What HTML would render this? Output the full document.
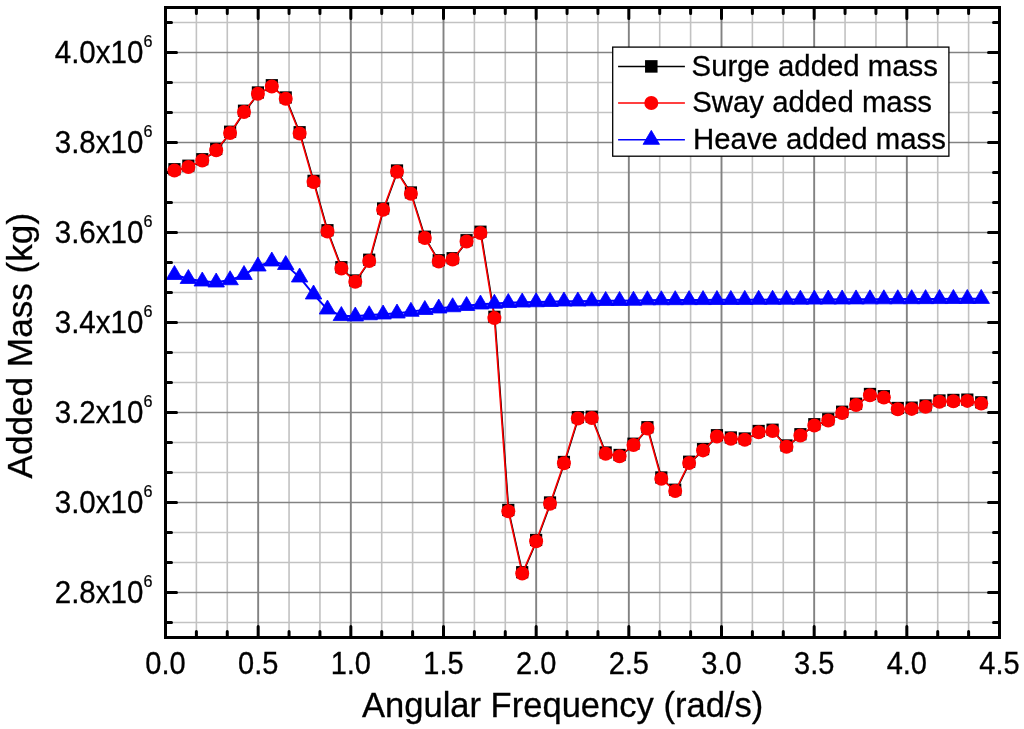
<!DOCTYPE html>
<html lang="en"><head><meta charset="utf-8"><title>Added Mass vs Angular Frequency</title>
<style>html,body{margin:0;padding:0;background:#fff}body{width:1024px;height:729px;overflow:hidden}svg{display:block}</style>
</head><body>
<svg width="1024" height="729" viewBox="0 0 1024 729">
<rect width="1024" height="729" fill="#fff"/>
<path d="M196.39 7.5V637.5M227.28 7.5V637.5M289.06 7.5V637.5M319.94 7.5V637.5M381.72 7.5V637.5M412.61 7.5V637.5M474.39 7.5V637.5M505.28 7.5V637.5M567.06 7.5V637.5M597.94 7.5V637.5M659.72 7.5V637.5M690.61 7.5V637.5M752.39 7.5V637.5M783.28 7.5V637.5M845.06 7.5V637.5M875.94 7.5V637.5M937.72 7.5V637.5M968.61 7.5V637.5" stroke="#c2c2c2" stroke-width="1.6" fill="none"/>
<path d="M165.5 622.50H999.5M165.5 562.50H999.5M165.5 532.50H999.5M165.5 472.50H999.5M165.5 442.50H999.5M165.5 382.50H999.5M165.5 352.50H999.5M165.5 292.50H999.5M165.5 262.50H999.5M165.5 202.50H999.5M165.5 172.50H999.5M165.5 112.50H999.5M165.5 82.50H999.5M165.5 22.50H999.5" stroke="#c2c2c2" stroke-width="1.5" fill="none"/>
<path d="M258.17 7.5V637.5M350.83 7.5V637.5M443.50 7.5V637.5M536.17 7.5V637.5M628.83 7.5V637.5M721.50 7.5V637.5M814.17 7.5V637.5M906.83 7.5V637.5" stroke="#828282" stroke-width="1.9" fill="none"/>
<path d="M165.5 592.50H999.5M165.5 502.50H999.5M165.5 412.50H999.5M165.5 322.50H999.5M165.5 232.50H999.5M165.5 142.50H999.5M165.5 52.50H999.5" stroke="#828282" stroke-width="1.7" fill="none"/>
<path d="M196.39 637.5v-6.0M196.39 7.5v6.0M227.28 637.5v-6.0M227.28 7.5v6.0M258.17 637.5v-11.0M258.17 7.5v11.0M289.06 637.5v-6.0M289.06 7.5v6.0M319.94 637.5v-6.0M319.94 7.5v6.0M350.83 637.5v-11.0M350.83 7.5v11.0M381.72 637.5v-6.0M381.72 7.5v6.0M412.61 637.5v-6.0M412.61 7.5v6.0M443.50 637.5v-11.0M443.50 7.5v11.0M474.39 637.5v-6.0M474.39 7.5v6.0M505.28 637.5v-6.0M505.28 7.5v6.0M536.17 637.5v-11.0M536.17 7.5v11.0M567.06 637.5v-6.0M567.06 7.5v6.0M597.94 637.5v-6.0M597.94 7.5v6.0M628.83 637.5v-11.0M628.83 7.5v11.0M659.72 637.5v-6.0M659.72 7.5v6.0M690.61 637.5v-6.0M690.61 7.5v6.0M721.50 637.5v-11.0M721.50 7.5v11.0M752.39 637.5v-6.0M752.39 7.5v6.0M783.28 637.5v-6.0M783.28 7.5v6.0M814.17 637.5v-11.0M814.17 7.5v11.0M845.06 637.5v-6.0M845.06 7.5v6.0M875.94 637.5v-6.0M875.94 7.5v6.0M906.83 637.5v-11.0M906.83 7.5v11.0M937.72 637.5v-6.0M937.72 7.5v6.0M968.61 637.5v-6.0M968.61 7.5v6.0M165.5 622.50h6.0M999.5 622.50h-6.0M165.5 592.50h11.0M999.5 592.50h-11.0M165.5 562.50h6.0M999.5 562.50h-6.0M165.5 532.50h6.0M999.5 532.50h-6.0M165.5 502.50h11.0M999.5 502.50h-11.0M165.5 472.50h6.0M999.5 472.50h-6.0M165.5 442.50h6.0M999.5 442.50h-6.0M165.5 412.50h11.0M999.5 412.50h-11.0M165.5 382.50h6.0M999.5 382.50h-6.0M165.5 352.50h6.0M999.5 352.50h-6.0M165.5 322.50h11.0M999.5 322.50h-11.0M165.5 292.50h6.0M999.5 292.50h-6.0M165.5 262.50h6.0M999.5 262.50h-6.0M165.5 232.50h11.0M999.5 232.50h-11.0M165.5 202.50h6.0M999.5 202.50h-6.0M165.5 172.50h6.0M999.5 172.50h-6.0M165.5 142.50h11.0M999.5 142.50h-11.0M165.5 112.50h6.0M999.5 112.50h-6.0M165.5 82.50h6.0M999.5 82.50h-6.0M165.5 52.50h11.0M999.5 52.50h-11.0M165.5 22.50h6.0M999.5 22.50h-6.0" stroke="#000" stroke-width="3" fill="none" stroke-linecap="round"/>
<polyline points="174.45,170.50 188.36,167.00 202.27,160.50 216.18,150.25 230.09,133.00 244.00,112.00 257.91,93.75 271.82,86.50 285.73,98.75 299.64,133.50 313.55,182.10 327.46,231.50 341.37,268.50 355.28,281.75 369.19,261.00 383.10,209.75 397.01,171.75 410.92,193.75 424.83,238.00 438.74,261.50 452.65,259.50 466.56,241.50 480.47,233.00 494.38,318.10 508.29,511.25 522.20,573.50 536.11,541.25 550.02,503.75 563.93,463.25 577.84,418.50 591.75,418.00 605.66,453.75 619.57,456.25 633.48,445.00 647.39,428.50 661.30,478.75 675.21,491.00 689.12,463.00 703.03,450.40 716.94,436.50 730.85,438.75 744.76,439.75 758.67,432.25 772.58,431.00 786.49,446.75 800.40,435.50 814.31,425.50 828.22,420.50 842.13,413.00 856.04,405.00 869.95,395.25 883.86,397.50 897.77,409.25 911.68,408.90 925.59,406.75 939.50,401.75 953.41,401.20 967.32,400.90 981.23,403.60" fill="none" stroke="#000" stroke-width="1.4" transform="translate(0.55 0)"/>
<g fill="#000"><rect x="168.35" y="163.10" width="12.2" height="12.2"/><rect x="182.26" y="159.60" width="12.2" height="12.2"/><rect x="196.17" y="153.10" width="12.2" height="12.2"/><rect x="210.08" y="142.85" width="12.2" height="12.2"/><rect x="223.99" y="125.60" width="12.2" height="12.2"/><rect x="237.90" y="104.60" width="12.2" height="12.2"/><rect x="251.81" y="86.35" width="12.2" height="12.2"/><rect x="265.72" y="79.10" width="12.2" height="12.2"/><rect x="279.63" y="91.35" width="12.2" height="12.2"/><rect x="293.54" y="126.10" width="12.2" height="12.2"/><rect x="307.45" y="174.70" width="12.2" height="12.2"/><rect x="321.36" y="224.10" width="12.2" height="12.2"/><rect x="335.27" y="261.10" width="12.2" height="12.2"/><rect x="349.18" y="274.35" width="12.2" height="12.2"/><rect x="363.09" y="253.60" width="12.2" height="12.2"/><rect x="377.00" y="202.35" width="12.2" height="12.2"/><rect x="390.91" y="164.35" width="12.2" height="12.2"/><rect x="404.82" y="186.35" width="12.2" height="12.2"/><rect x="418.73" y="230.60" width="12.2" height="12.2"/><rect x="432.64" y="254.10" width="12.2" height="12.2"/><rect x="446.55" y="252.10" width="12.2" height="12.2"/><rect x="460.46" y="234.10" width="12.2" height="12.2"/><rect x="474.37" y="225.60" width="12.2" height="12.2"/><rect x="488.28" y="310.70" width="12.2" height="12.2"/><rect x="502.19" y="503.85" width="12.2" height="12.2"/><rect x="516.10" y="566.10" width="12.2" height="12.2"/><rect x="530.01" y="533.85" width="12.2" height="12.2"/><rect x="543.92" y="496.35" width="12.2" height="12.2"/><rect x="557.83" y="455.85" width="12.2" height="12.2"/><rect x="571.74" y="411.10" width="12.2" height="12.2"/><rect x="585.65" y="410.60" width="12.2" height="12.2"/><rect x="599.56" y="446.35" width="12.2" height="12.2"/><rect x="613.47" y="448.85" width="12.2" height="12.2"/><rect x="627.38" y="437.60" width="12.2" height="12.2"/><rect x="641.29" y="421.10" width="12.2" height="12.2"/><rect x="655.20" y="471.35" width="12.2" height="12.2"/><rect x="669.11" y="483.60" width="12.2" height="12.2"/><rect x="683.02" y="455.60" width="12.2" height="12.2"/><rect x="696.93" y="443.00" width="12.2" height="12.2"/><rect x="710.84" y="429.10" width="12.2" height="12.2"/><rect x="724.75" y="431.35" width="12.2" height="12.2"/><rect x="738.66" y="432.35" width="12.2" height="12.2"/><rect x="752.57" y="424.85" width="12.2" height="12.2"/><rect x="766.48" y="423.60" width="12.2" height="12.2"/><rect x="780.39" y="439.35" width="12.2" height="12.2"/><rect x="794.30" y="428.10" width="12.2" height="12.2"/><rect x="808.21" y="418.10" width="12.2" height="12.2"/><rect x="822.12" y="413.10" width="12.2" height="12.2"/><rect x="836.03" y="405.60" width="12.2" height="12.2"/><rect x="849.94" y="397.60" width="12.2" height="12.2"/><rect x="863.85" y="387.85" width="12.2" height="12.2"/><rect x="877.76" y="390.10" width="12.2" height="12.2"/><rect x="891.67" y="401.85" width="12.2" height="12.2"/><rect x="905.58" y="401.50" width="12.2" height="12.2"/><rect x="919.49" y="399.35" width="12.2" height="12.2"/><rect x="933.40" y="394.35" width="12.2" height="12.2"/><rect x="947.31" y="393.80" width="12.2" height="12.2"/><rect x="961.22" y="393.50" width="12.2" height="12.2"/><rect x="975.13" y="396.20" width="12.2" height="12.2"/></g>
<polyline points="174.45,170.50 188.36,167.00 202.27,160.50 216.18,150.25 230.09,133.00 244.00,112.00 257.91,93.75 271.82,86.50 285.73,98.75 299.64,133.50 313.55,182.10 327.46,231.50 341.37,268.50 355.28,281.75 369.19,261.00 383.10,209.75 397.01,171.75 410.92,193.75 424.83,238.00 438.74,261.50 452.65,259.50 466.56,241.50 480.47,233.00 494.38,318.10 508.29,511.25 522.20,573.50 536.11,541.25 550.02,503.75 563.93,463.25 577.84,418.50 591.75,418.00 605.66,453.75 619.57,456.25 633.48,445.00 647.39,428.50 661.30,478.75 675.21,491.00 689.12,463.00 703.03,450.40 716.94,436.50 730.85,438.75 744.76,439.75 758.67,432.25 772.58,431.00 786.49,446.75 800.40,435.50 814.31,425.50 828.22,420.50 842.13,413.00 856.04,405.00 869.95,395.25 883.86,397.50 897.77,409.25 911.68,408.90 925.59,406.75 939.50,401.75 953.41,401.20 967.32,400.90 981.23,403.60" fill="none" stroke="#f00" stroke-width="1.6"/>
<g fill="#f00"><circle cx="174.45" cy="170.50" r="7.0"/><circle cx="188.36" cy="167.00" r="7.0"/><circle cx="202.27" cy="160.50" r="7.0"/><circle cx="216.18" cy="150.25" r="7.0"/><circle cx="230.09" cy="133.00" r="7.0"/><circle cx="244.00" cy="112.00" r="7.0"/><circle cx="257.91" cy="93.75" r="7.0"/><circle cx="271.82" cy="86.50" r="7.0"/><circle cx="285.73" cy="98.75" r="7.0"/><circle cx="299.64" cy="133.50" r="7.0"/><circle cx="313.55" cy="182.10" r="7.0"/><circle cx="327.46" cy="231.50" r="7.0"/><circle cx="341.37" cy="268.50" r="7.0"/><circle cx="355.28" cy="281.75" r="7.0"/><circle cx="369.19" cy="261.00" r="7.0"/><circle cx="383.10" cy="209.75" r="7.0"/><circle cx="397.01" cy="171.75" r="7.0"/><circle cx="410.92" cy="193.75" r="7.0"/><circle cx="424.83" cy="238.00" r="7.0"/><circle cx="438.74" cy="261.50" r="7.0"/><circle cx="452.65" cy="259.50" r="7.0"/><circle cx="466.56" cy="241.50" r="7.0"/><circle cx="480.47" cy="233.00" r="7.0"/><circle cx="494.38" cy="318.10" r="7.0"/><circle cx="508.29" cy="511.25" r="7.0"/><circle cx="522.20" cy="573.50" r="7.0"/><circle cx="536.11" cy="541.25" r="7.0"/><circle cx="550.02" cy="503.75" r="7.0"/><circle cx="563.93" cy="463.25" r="7.0"/><circle cx="577.84" cy="418.50" r="7.0"/><circle cx="591.75" cy="418.00" r="7.0"/><circle cx="605.66" cy="453.75" r="7.0"/><circle cx="619.57" cy="456.25" r="7.0"/><circle cx="633.48" cy="445.00" r="7.0"/><circle cx="647.39" cy="428.50" r="7.0"/><circle cx="661.30" cy="478.75" r="7.0"/><circle cx="675.21" cy="491.00" r="7.0"/><circle cx="689.12" cy="463.00" r="7.0"/><circle cx="703.03" cy="450.40" r="7.0"/><circle cx="716.94" cy="436.50" r="7.0"/><circle cx="730.85" cy="438.75" r="7.0"/><circle cx="744.76" cy="439.75" r="7.0"/><circle cx="758.67" cy="432.25" r="7.0"/><circle cx="772.58" cy="431.00" r="7.0"/><circle cx="786.49" cy="446.75" r="7.0"/><circle cx="800.40" cy="435.50" r="7.0"/><circle cx="814.31" cy="425.50" r="7.0"/><circle cx="828.22" cy="420.50" r="7.0"/><circle cx="842.13" cy="413.00" r="7.0"/><circle cx="856.04" cy="405.00" r="7.0"/><circle cx="869.95" cy="395.25" r="7.0"/><circle cx="883.86" cy="397.50" r="7.0"/><circle cx="897.77" cy="409.25" r="7.0"/><circle cx="911.68" cy="408.90" r="7.0"/><circle cx="925.59" cy="406.75" r="7.0"/><circle cx="939.50" cy="401.75" r="7.0"/><circle cx="953.41" cy="401.20" r="7.0"/><circle cx="967.32" cy="400.90" r="7.0"/><circle cx="981.23" cy="403.60" r="7.0"/></g>
<polyline points="174.45,274.83 188.36,278.83 202.27,281.33 216.18,282.33 230.09,280.08 244.00,274.83 257.91,266.33 271.82,261.33 285.73,264.83 299.64,277.33 313.55,294.33 327.46,309.33 341.37,315.83 355.28,316.33 369.19,315.08 383.10,314.33 397.01,313.33 410.92,311.63 424.83,309.83 438.74,308.33 452.65,307.08 466.56,305.83 480.47,304.33 494.38,303.58 508.29,302.83 522.20,302.33 536.11,302.08 550.02,301.83 563.93,301.33 577.84,301.33 591.75,301.08 605.66,300.83 619.57,300.83 633.48,300.58 647.39,300.13 661.30,300.07 675.21,300.02 689.12,299.96 703.03,299.90 716.94,299.84 730.85,299.78 744.76,299.72 758.67,299.67 772.58,299.61 786.49,299.55 800.40,299.49 814.31,299.43 828.22,299.38 842.13,299.32 856.04,299.26 869.95,299.20 883.86,299.14 897.77,299.08 911.68,299.02 925.59,298.97 939.50,298.91 953.41,298.85 967.32,298.79 981.23,298.73" fill="none" stroke="#00f" stroke-width="2.0"/>
<path d="M174.45 265.50L182.70 279.50H166.20ZM188.36 269.50L196.61 283.50H180.11ZM202.27 272.00L210.52 286.00H194.02ZM216.18 273.00L224.43 287.00H207.93ZM230.09 270.75L238.34 284.75H221.84ZM244.00 265.50L252.25 279.50H235.75ZM257.91 257.00L266.16 271.00H249.66ZM271.82 252.00L280.07 266.00H263.57ZM285.73 255.50L293.98 269.50H277.48ZM299.64 268.00L307.89 282.00H291.39ZM313.55 285.00L321.80 299.00H305.30ZM327.46 300.00L335.71 314.00H319.21ZM341.37 306.50L349.62 320.50H333.12ZM355.28 307.00L363.53 321.00H347.03ZM369.19 305.75L377.44 319.75H360.94ZM383.10 305.00L391.35 319.00H374.85ZM397.01 304.00L405.26 318.00H388.76ZM410.92 302.30L419.17 316.30H402.67ZM424.83 300.50L433.08 314.50H416.58ZM438.74 299.00L446.99 313.00H430.49ZM452.65 297.75L460.90 311.75H444.40ZM466.56 296.50L474.81 310.50H458.31ZM480.47 295.00L488.72 309.00H472.22ZM494.38 294.25L502.63 308.25H486.13ZM508.29 293.50L516.54 307.50H500.04ZM522.20 293.00L530.45 307.00H513.95ZM536.11 292.75L544.36 306.75H527.86ZM550.02 292.50L558.27 306.50H541.77ZM563.93 292.00L572.18 306.00H555.68ZM577.84 292.00L586.09 306.00H569.59ZM591.75 291.75L600.00 305.75H583.50ZM605.66 291.50L613.91 305.50H597.41ZM619.57 291.50L627.82 305.50H611.32ZM633.48 291.25L641.73 305.25H625.23ZM647.39 290.80L655.64 304.80H639.14ZM661.30 290.74L669.55 304.74H653.05ZM675.21 290.68L683.46 304.68H666.96ZM689.12 290.62L697.37 304.62H680.87ZM703.03 290.57L711.28 304.57H694.78ZM716.94 290.51L725.19 304.51H708.69ZM730.85 290.45L739.10 304.45H722.60ZM744.76 290.39L753.01 304.39H736.51ZM758.67 290.33L766.92 304.33H750.42ZM772.58 290.27L780.83 304.27H764.33ZM786.49 290.22L794.74 304.22H778.24ZM800.40 290.16L808.65 304.16H792.15ZM814.31 290.10L822.56 304.10H806.06ZM828.22 290.04L836.47 304.04H819.97ZM842.13 289.98L850.38 303.98H833.88ZM856.04 289.93L864.29 303.93H847.79ZM869.95 289.87L878.20 303.87H861.70ZM883.86 289.81L892.11 303.81H875.61ZM897.77 289.75L906.02 303.75H889.52ZM911.68 289.69L919.93 303.69H903.43ZM925.59 289.63L933.84 303.63H917.34ZM939.50 289.57L947.75 303.57H931.25ZM953.41 289.52L961.66 303.52H945.16ZM967.32 289.46L975.57 303.46H959.07ZM981.23 289.40L989.48 303.40H972.98Z" fill="#00f" stroke="#00f" stroke-width="0.8" stroke-linejoin="round"/>
<rect x="165.5" y="7.5" width="834.0" height="630.0" fill="none" stroke="#000" stroke-width="3"/>
<g font-family="Liberation Sans, sans-serif" fill="#000" stroke="#000">
<text transform="translate(165.50 673.50) scale(1 1.06)" font-size="29.0" text-anchor="middle" stroke-width="0.3">0.0</text>
<text transform="translate(258.17 673.50) scale(1 1.06)" font-size="29.0" text-anchor="middle" stroke-width="0.3">0.5</text>
<text transform="translate(350.83 673.50) scale(1 1.06)" font-size="29.0" text-anchor="middle" stroke-width="0.3">1.0</text>
<text transform="translate(443.50 673.50) scale(1 1.06)" font-size="29.0" text-anchor="middle" stroke-width="0.3">1.5</text>
<text transform="translate(536.17 673.50) scale(1 1.06)" font-size="29.0" text-anchor="middle" stroke-width="0.3">2.0</text>
<text transform="translate(628.83 673.50) scale(1 1.06)" font-size="29.0" text-anchor="middle" stroke-width="0.3">2.5</text>
<text transform="translate(721.50 673.50) scale(1 1.06)" font-size="29.0" text-anchor="middle" stroke-width="0.3">3.0</text>
<text transform="translate(814.17 673.50) scale(1 1.06)" font-size="29.0" text-anchor="middle" stroke-width="0.3">3.5</text>
<text transform="translate(906.83 673.50) scale(1 1.06)" font-size="29.0" text-anchor="middle" stroke-width="0.3">4.0</text>
<text transform="translate(999.50 673.50) scale(1 1.06)" font-size="29.0" text-anchor="middle" stroke-width="0.3">4.5</text>
<text transform="translate(143.40 603.30) scale(1 1.035)" font-size="29.55" text-anchor="end" stroke-width="0.3">2.8x10</text>
<text transform="translate(143.40 586.90) scale(1 1.02)" font-size="16.2" text-anchor="start" stroke-width="0.2">6</text>
<text transform="translate(143.40 513.30) scale(1 1.035)" font-size="29.55" text-anchor="end" stroke-width="0.3">3.0x10</text>
<text transform="translate(143.40 496.90) scale(1 1.02)" font-size="16.2" text-anchor="start" stroke-width="0.2">6</text>
<text transform="translate(143.40 423.30) scale(1 1.035)" font-size="29.55" text-anchor="end" stroke-width="0.3">3.2x10</text>
<text transform="translate(143.40 406.90) scale(1 1.02)" font-size="16.2" text-anchor="start" stroke-width="0.2">6</text>
<text transform="translate(143.40 333.30) scale(1 1.035)" font-size="29.55" text-anchor="end" stroke-width="0.3">3.4x10</text>
<text transform="translate(143.40 316.90) scale(1 1.02)" font-size="16.2" text-anchor="start" stroke-width="0.2">6</text>
<text transform="translate(143.40 243.30) scale(1 1.035)" font-size="29.55" text-anchor="end" stroke-width="0.3">3.6x10</text>
<text transform="translate(143.40 226.90) scale(1 1.02)" font-size="16.2" text-anchor="start" stroke-width="0.2">6</text>
<text transform="translate(143.40 153.30) scale(1 1.035)" font-size="29.55" text-anchor="end" stroke-width="0.3">3.8x10</text>
<text transform="translate(143.40 136.90) scale(1 1.02)" font-size="16.2" text-anchor="start" stroke-width="0.2">6</text>
<text transform="translate(143.40 63.30) scale(1 1.035)" font-size="29.55" text-anchor="end" stroke-width="0.3">4.0x10</text>
<text transform="translate(143.40 46.90) scale(1 1.02)" font-size="16.2" text-anchor="start" stroke-width="0.2">6</text>
<text transform="translate(562.60 716.90)" font-size="34.55" text-anchor="middle" stroke-width="0.3">Angular Frequency (rad/s)</text>
<text transform="translate(31.80 345.70) rotate(-90)" font-size="35.15" text-anchor="middle" stroke-width="0.3">Added Mass (kg)</text>
</g>
<rect x="612.7" y="47.1" width="336.2" height="109.1" fill="#fff" stroke="#000" stroke-width="1.3"/>
<path d="M618.1 66.4H684.9" stroke="#000" stroke-width="1.5"/>
<path d="M618.1 103.0H684.9" stroke="#f00" stroke-width="1.5"/>
<path d="M618.1 139.7H684.9" stroke="#00f" stroke-width="1.5"/>
<rect x="645.05" y="60.150000000000006" width="12.5" height="12.5" fill="#000"/>
<circle cx="651.3" cy="103.0" r="7.0" fill="#f00"/>
<path d="M651.30 130.37L659.55 144.37H643.05Z" fill="#00f" stroke="#00f" stroke-width="0.8" stroke-linejoin="round"/>
<g font-family="Liberation Sans, sans-serif" fill="#000" stroke="#000">
<text transform="translate(691.60 76.20) scale(1 0.99)" font-size="29.35" text-anchor="start" stroke-width="0.3">Surge added mass</text>
<text transform="translate(692.30 112.20) scale(1 0.99)" font-size="29.35" text-anchor="start" stroke-width="0.3">Sway added mass</text>
<text transform="translate(693.10 148.80) scale(1 0.99)" font-size="29.35" text-anchor="start" stroke-width="0.3">Heave added mass</text>
</g>
</svg>
</body></html>
